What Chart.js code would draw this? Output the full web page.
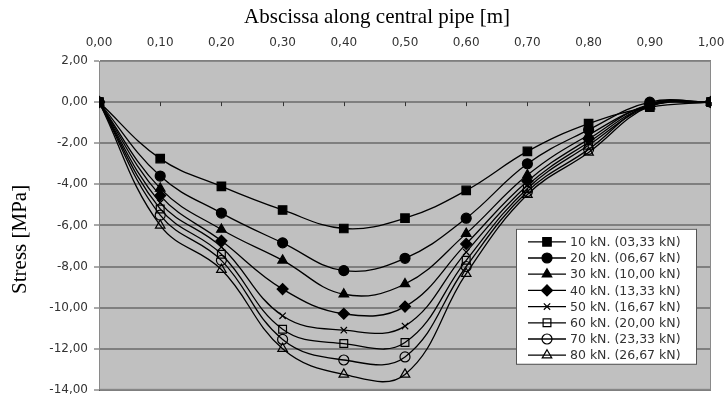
<!DOCTYPE html>
<html>
<head>
<meta charset="utf-8">
<script src="https://cdn.jsdelivr.net/npm/chart.js@4.4.1/dist/chart.umd.min.js"></script>
<style>
    html, body { margin: 0; padding: 0; background: #fff; }
    #wrap { width: 726px; height: 403px; }
</style>
</head>
<body>
<div id="wrap"><canvas id="stressChart"></canvas></div>
<script>
// abscissa along the central pipe [m]
const abscissa = [0, 0.1, 0.2, 0.3, 0.4, 0.5, 0.6, 0.7, 0.8, 0.9, 1.0];

// stress [MPa] per load case
const load10 = [0, -2.75, -4.1, -5.25, -6.15, -5.65, -4.3, -2.4, -1.05, -0.25, 0];
const load20 = [0, -3.6, -5.4, -6.85, -8.2, -7.6, -5.65, -3.0, -1.35, 0.0, 0];
const load30 = [0, -4.2, -6.2, -7.7, -9.35, -8.85, -6.4, -3.55, -1.6, -0.15, 0];
const load40 = [0, -4.55, -6.75, -9.1, -10.3, -9.95, -6.9, -3.85, -1.8, -0.1, 0];
const load50 = [0, -4.9, -7.05, -10.4, -11.1, -10.9, -7.3, -4.05, -1.95, -0.15, 0];
const load60 = [0, -5.2, -7.4, -11.05, -11.75, -11.7, -7.7, -4.2, -2.1, -0.2, 0];
const load70 = [0, -5.5, -7.7, -11.55, -12.55, -12.4, -8.0, -4.35, -2.3, -0.1, 0];
const load80 = [0, -6.0, -8.15, -12.0, -13.25, -13.25, -8.35, -4.5, -2.45, -0.2, 0];

const seriesLabels = [
    '10 kN. (03,33 kN)', '20 kN. (06,67 kN)', '30 kN. (10,00 kN)', '40 kN. (13,33 kN)',
    '50 kN. (16,67 kN)', '60 kN. (20,00 kN)', '70 kN. (23,33 kN)', '80 kN. (26,67 kN)'
];
const seriesValues = [load10, load20, load30, load40, load50, load60, load70, load80];

const xTitle = 'Abscissa along central pipe [m]';
const yTitle = 'Stress [MPa]';

// marker look for each series
const markers = [
    { style: 'rect', radius: 6, fill: '#000' },
    { style: 'circle', radius: 5, fill: '#000' },
    { style: 'triangle', radius: 5.5, fill: '#000' },
    { style: 'rectRot', radius: 5.5, fill: '#000' },
    { style: 'crossRot', radius: 4.5, fill: 'rgba(0,0,0,0)' },
    { style: 'rect', radius: 5.5, fill: 'rgba(0,0,0,0)' },
    { style: 'circle', radius: 5, fill: 'rgba(0,0,0,0)' },
    { style: 'triangle', radius: 5.5, fill: 'rgba(0,0,0,0)' }
];

const tickFont = { family: 'DejaVu Sans', size: 12 };
const fmt = v => Number(v).toFixed(2).replace('.', ',');

const datasets = seriesValues.map((vals, i) => ({
    label: seriesLabels[i],
    data: abscissa.map((x, k) => ({ x: x, y: vals[k] })),
    borderColor: '#000',
    borderWidth: 1.3,
    tension: 0.4,
    pointStyle: markers[i].style,
    pointRadius: markers[i].radius,
    pointBackgroundColor: markers[i].fill,
    pointBorderColor: '#000',
    pointBorderWidth: 1.2
}));

// grey plot area, frame and the small tick marks on the zero line
const plotFrame = {
    id: 'plotFrame',
    beforeDraw(chart) {
        const a = chart.chartArea, c = chart.ctx;
        c.save();
        c.fillStyle = '#c0c0c0';
        c.fillRect(a.left, a.top, a.right - a.left, a.bottom - a.top);
        c.restore();
    },
    beforeDatasetsDraw(chart) {
        const a = chart.chartArea, c = chart.ctx;
        const xs = chart.scales.x, y0 = chart.scales.y.getPixelForValue(0);
        c.save();
        c.strokeStyle = '#8a8a8a';
        c.lineWidth = 1;
        c.strokeRect(a.left + 0.5, a.top + 0.5, a.right - a.left - 1, a.bottom - a.top - 1);
        c.strokeStyle = '#333';
        xs.ticks.forEach(t => {
            const px = Math.round(xs.getPixelForValue(t.value)) + 0.5;
            c.beginPath();
            c.moveTo(px, y0);
            c.lineTo(px, y0 + 4);
            c.stroke();
        });
        c.restore();
    }
};

// axis titles, placed a bit off the plot centre like the original
const axisTitles = {
    id: 'axisTitles',
    afterDraw(chart) {
        const a = chart.chartArea, c = chart.ctx;
        c.save();
        c.fillStyle = '#000';
        c.textAlign = 'center';
        c.textBaseline = 'middle';
        c.font = '21px "Liberation Serif"';
        c.fillText(xTitle, chart.width / 2 + 14, 17);
        c.translate(20, (a.top + a.bottom) / 2 + 14);
        c.rotate(-Math.PI / 2);
        c.font = '21px "Liberation Serif"';
        c.fillText(yTitle, 0, 0);
        c.restore();
    }
};

// legend box drawn inside the plot area
const innerLegend = {
    id: 'innerLegend',
    afterDraw(chart) {
        const a = chart.chartArea, c = chart.ctx;
        const w = 180, h = 135;
        const left = a.right - 15 - w, top = a.bottom - 26 - h;
        c.save();
        c.fillStyle = '#fff';
        c.fillRect(left, top, w, h);
        c.strokeStyle = '#555';
        c.lineWidth = 1;
        c.strokeRect(left + 0.5, top + 0.5, w, h);
        c.font = '12.5px "DejaVu Sans"';
        c.textBaseline = 'middle';
        chart.data.datasets.forEach((ds, i) => {
            const y = top + 13 + i * 16.2;
            c.strokeStyle = '#000';
            c.lineWidth = 1.3;
            c.beginPath();
            c.moveTo(left + 12, y);
            c.lineTo(left + 50, y);
            c.stroke();
            c.fillStyle = markers[i].fill;
            c.lineWidth = 1.2;
            Chart.helpers.drawPoint(c, {
                pointStyle: markers[i].style,
                radius: markers[i].radius,
                rotation: 0,
                borderWidth: 1.2
            }, left + 31, y);
            c.fillStyle = '#333';
            c.fillText(ds.label, left + 54, y + 1);
        });
        c.restore();
    }
};

new Chart(document.getElementById('stressChart').getContext('2d'), {
    type: 'line',
    data: { datasets: datasets },
    options: {
        responsive: true,
        maintainAspectRatio: false,
        animation: false,
        layout: { padding: { left: 0, right: 0, top: 0, bottom: 13 } },
        plugins: {
            legend: { display: false },
            tooltip: { enabled: false }
        },
        scales: {
            x: {
                type: 'linear',
                position: 'top',
                min: 0,
                max: 1,
                grid: { display: false, drawTicks: false },
                border: { display: false },
                ticks: {
                    stepSize: 0.1,
                    font: tickFont,
                    color: '#333',
                    padding: 11,
                    maxRotation: 0,
                    callback: v => fmt(v)
                },
                afterFit(scale) {
                    scale.height = 61;
                    scale.paddingLeft = 0;
                    scale.paddingRight = 15;
                }
            },
            y: {
                min: -14,
                max: 2,
                grid: {
                    color: '#7f7f7f',
                    lineWidth: 2,
                    tickLength: 5,
                    tickColor: '#555',
                    tickWidth: 1
                },
                border: { display: true, color: '#555', width: 1 },
                ticks: {
                    stepSize: 2,
                    font: tickFont,
                    color: '#333',
                    padding: 6,
                    callback: v => fmt(v)
                },
                afterFit(scale) { scale.width = 99; }
            }
        }
    },
    plugins: [plotFrame, axisTitles, innerLegend]
});
</script>
</body>
</html>
